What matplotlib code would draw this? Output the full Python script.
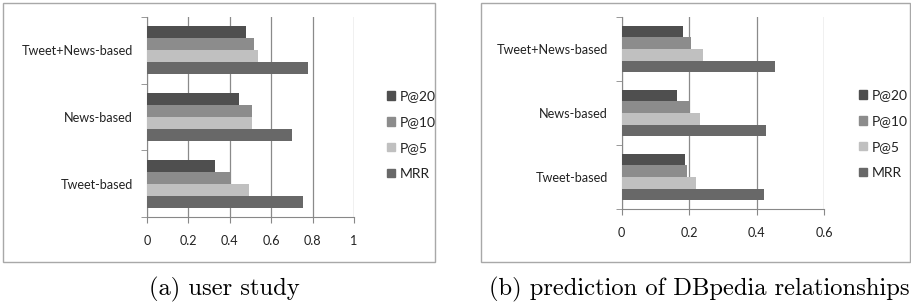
import numpy as np
import matplotlib.pyplot as plt
from matplotlib.patches import Rectangle, Patch

# datos
categorias = ['Tweet-based', 'News-based', 'Tweet+News-based']
series = ['P@20', 'P@10', 'P@5', 'MRR']
colores = ['#4f4f4f', '#8c8c8c', '#c0c0c0', '#686868']

# (a) user study
p20_a = [0.33, 0.445, 0.48]
p10_a = [0.40, 0.505, 0.515]
p5_a = [0.495, 0.505, 0.537]
mrr_a = [0.755, 0.70, 0.78]

# (b) prediction of DBpedia relationships
p20_b = [0.187, 0.163, 0.182]
p10_b = [0.194, 0.201, 0.206]
p5_b = [0.220, 0.232, 0.242]
mrr_b = [0.423, 0.428, 0.455]

plt.rcParams['font.family'] = ['Lato', 'DejaVu Sans']

fig = plt.figure(figsize=(9.12, 3.07), dpi=100)
renderer = fig.canvas.get_renderer()


def ajustar(texto, ancho_px, familia=None):
    # tamaño de letra para que el texto mida ancho_px
    kw = {'family': familia} if familia else {}
    t = fig.text(0, 0, texto, fontsize=10, **kw)
    w = t.get_window_extent(renderer=renderer).width
    t.remove()
    return 10 * ancho_px / w


fs_ticks = ajustar('Tweet+News-based', 112)
fs_leg = ajustar('P@20', 36)
fs_cap = ajustar('(b) prediction of DBpedia relationships', 422, 'cmr10')

# marcos de cada grafico
for x0, x1 in [(3, 435), (481, 910)]:
    fig.patches.append(Rectangle((x0 / 912, 1 - 262 / 307), (x1 - x0) / 912, 259 / 307,
                                 transform=fig.transFigure, fill=False,
                                 edgecolor='#a8a8a8', lw=1))


def dibujar(ax, datos, xmax, paso, leg_x, leg_y):
    y = np.arange(len(categorias))
    h = 0.18
    offs = [1.5 * h, 0.5 * h, -0.5 * h, -1.5 * h]
    for vals, off, c, lab in zip(datos, offs, colores, series):
        ax.barh(y + off, vals, height=h, color=c, label=lab, zorder=3)
    ax.set_ylim(-0.5, 2.5)
    ax.set_xlim(0, xmax)
    xt = np.arange(0, xmax + 1e-9, paso)
    ax.set_xticks(xt)
    ax.set_xticklabels([('%g' % v) for v in xt])
    ax.set_yticks(y)
    ax.set_yticklabels(categorias)
    ax.set_yticks([-0.5, 0.5, 1.5, 2.5], minor=True)
    ax.tick_params(axis='y', which='major', length=0, pad=10)
    ax.tick_params(axis='y', which='minor', length=4, color='#888888')
    ax.tick_params(axis='x', length=4, color='#888888', pad=9)
    ax.tick_params(labelsize=fs_ticks, labelcolor='#222222')
    ax.grid(axis='x', color='#8a8a8a', lw=0.9, zorder=0)
    for s in ['top', 'right']:
        ax.spines[s].set_visible(False)
    for s in ['left', 'bottom']:
        ax.spines[s].set_color('#888888')
    handles = [Patch(color=c, label=l) for c, l in zip(colores, series)]
    fig.legend(handles=handles, loc='center left', bbox_to_anchor=(leg_x, 1 - leg_y / 307),
               frameon=False, fontsize=fs_leg, handlelength=0.6, handleheight=0.6,
               handletextpad=0.3, labelspacing=1.0, labelcolor='#222222', borderpad=0)


ax1 = fig.add_axes([147 / 912, 1 - 217 / 307, 207 / 912, 200 / 307])
dibujar(ax1, [p20_a, p10_a, p5_a, mrr_a], 1.0, 0.2, 380 / 912, 135)

ax2 = fig.add_axes([621.7 / 912, 1 - 209 / 307, 202.3 / 912, 192 / 307])
dibujar(ax2, [p20_b, p10_b, p5_b, mrr_b], 0.6, 0.2, 852 / 912, 134)

fig.text(224 / 912, 1 - 289 / 307, '(a) user study', family='cmr10', fontsize=fs_cap,
         ha='center', va='center')
fig.text(699 / 912, 1 - 289 / 307, '(b) prediction of DBpedia relationships', family='cmr10',
         fontsize=fs_cap, ha='center', va='center')

fig.savefig('out.png', dpi=100)
